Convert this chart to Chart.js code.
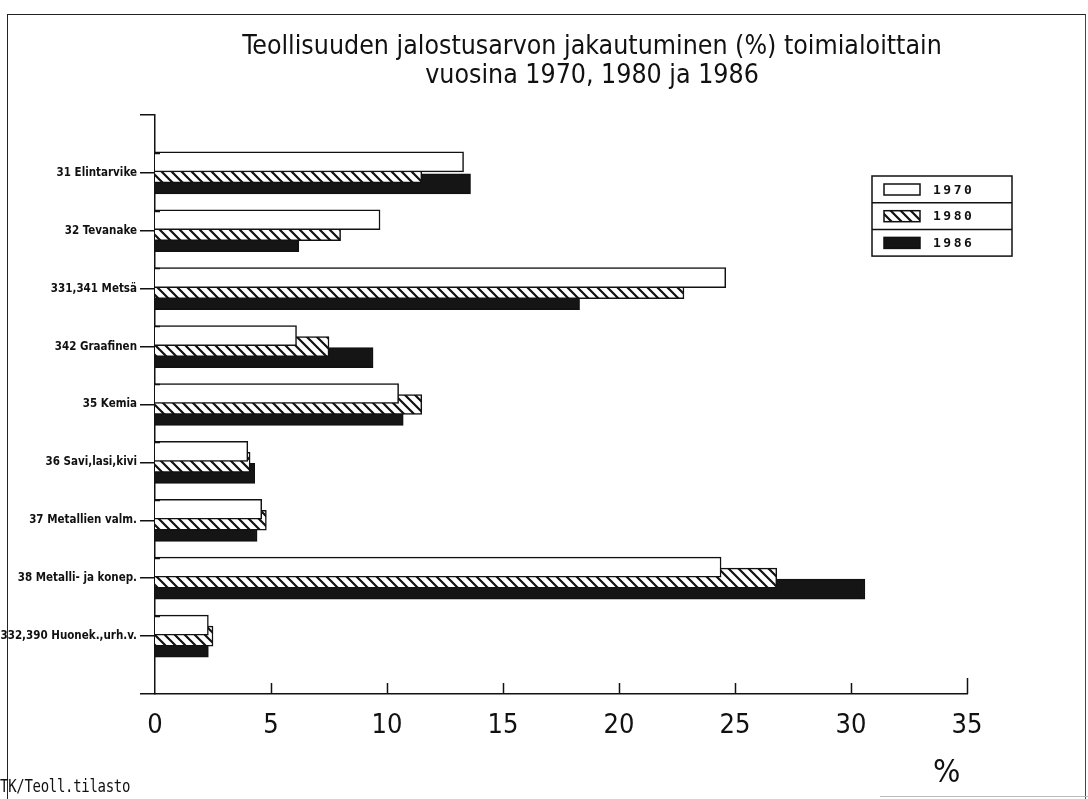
<!DOCTYPE html>
<html><head><meta charset="utf-8">
<script src="https://cdn.jsdelivr.net/npm/chart.js@4.4.1/dist/chart.umd.min.js"></script>
<style>
html,body{margin:0;padding:0;background:#fff;}
#wrap{position:relative;width:1088px;height:799px;overflow:hidden;background:#fff;}
#c{position:absolute;left:0;top:0;}
.frame{position:absolute;left:7px;top:14px;width:1077px;height:800px;border-top:1.5px solid #222;border-left:1.5px solid #222;border-right:1.5px solid #444;}
.bline{position:absolute;left:880px;top:796px;width:208px;height:1px;background:#bbb;}
#src{position:absolute;left:0px;top:776px;font-family:'DejaVu Sans Mono',monospace;font-size:14px;color:#111;letter-spacing:-0.3px;transform:scaleY(1.2);transform-origin:0 0;}
#pct{position:absolute;left:933px;top:752px;font-family:'Liberation Sans Narrow','DejaVu Sans Condensed',sans-serif;font-size:32px;color:#111;}
</style></head>
<body><div id="wrap">
<div class="frame"></div><div class="bline"></div>
<canvas id="c" width="1184" height="799"></canvas>
<div id="src">TK/Teoll.tilasto</div>
<div id="pct">%</div>
</div>
<script>
const categories = ['31 Elintarvike','32 Tevanake','331,341 Metsä','342 Graafinen','35 Kemia','36 Savi,lasi,kivi','37 Metallien valm.','38 Metalli- ja konep.','332,390 Huonek.,urh.v.'];
const years = ['1970','1980','1986'];
const values1970 = [13.3, 9.7, 24.6, 6.1, 10.5, 4.0, 4.6, 24.4, 2.3];
const values1980 = [11.5, 8.0, 22.8, 7.5, 11.5, 4.1, 4.8, 26.8, 2.5];
const values1986 = [13.6, 6.2, 18.3, 9.4, 10.7, 4.3, 4.4, 30.6, 2.3];
const xTicks = [0, 5, 10, 15, 20, 25, 30, 35];
const titleLines = ['Teollisuuden jalostusarvon jakautuminen (%) toimialoittain', 'vuosina 1970, 1980 ja 1986'];

const NARROW = "'Liberation Sans Narrow','DejaVu Sans Condensed','Liberation Sans',sans-serif";
const INK = '#111';

function hatch(){
  const c = document.createElement('canvas'); c.width = 10; c.height = 10;
  const g = c.getContext('2d');
  g.fillStyle = '#fff'; g.fillRect(0,0,10,10);
  g.strokeStyle = INK; g.lineWidth = 2.2; g.lineCap='square';
  g.beginPath();
  g.moveTo(-2,-2); g.lineTo(12,12);
  g.moveTo(-2,8); g.lineTo(2,12);
  g.moveTo(8,-2); g.lineTo(12,2);
  g.stroke();
  return g.createPattern(c,'repeat');
}
const cv = document.getElementById('c');
const fills = ['#ffffff', hatch(), '#151515'];
const offsets = [-0.19, 0, 0.19];
const series = [values1970, values1980, values1986];

const innerTicks = {
  id:'innerTicks',
  afterDraw(chart){
    const xs = chart.scales.x, ys = chart.scales.y, ctx = chart.ctx, ca = chart.chartArea;
    ctx.save(); ctx.strokeStyle = INK; ctx.lineWidth = 1.5;
    xs.ticks.forEach(t => {
      if (t.value === xs.min) return;
      const px = Math.round(xs.getPixelForValue(t.value)) + 0.5;
      const len = t.value === xs.max ? 16 : 11;
      ctx.beginPath(); ctx.moveTo(px, ca.bottom); ctx.lineTo(px, ca.bottom - len); ctx.stroke();
    });
    categories.forEach((c, i) => {
      const py = Math.round(ys.getPixelForValue(i - 0.35)) + 0.5;
      ctx.beginPath(); ctx.moveTo(ca.left, py); ctx.lineTo(ca.left + 5, py); ctx.stroke();
    });
    ctx.restore();
  }
};

const boxLegend = {
  id:'boxLegend',
  afterDraw(chart){
    const ctx = chart.ctx; const x = 872, y = 176, w = 140, rowH = 26.7;
    ctx.save(); ctx.strokeStyle = INK; ctx.lineWidth = 1.5;
    ctx.strokeRect(x, y, w, rowH*3);
    chart.data.datasets.forEach((ds, i) => {
      const ry = y + i*rowH;
      if (i > 0) { ctx.beginPath(); ctx.moveTo(x, ry); ctx.lineTo(x+w, ry); ctx.stroke(); }
      ctx.fillStyle = ds.backgroundColor;
      ctx.fillRect(x+12, ry+8, 36, 11);
      ctx.strokeRect(x+12, ry+8, 36, 11);
      ctx.fillStyle = INK; ctx.font = "bold 13px 'DejaVu Sans Mono', monospace";
      ctx.letterSpacing = '2.5px'; ctx.textBaseline = 'middle'; ctx.textAlign = 'left';
      ctx.fillText(ds.label, x+61, ry + rowH/2 + 1);
    });
    ctx.restore();
  }
};

new Chart(cv, {
  type:'bar',
  data:{
    datasets: years.map((yr, k) => ({
      label: yr,
      data: series[k].map((v, i) => ({x: v, y: i + offsets[k]})),
      backgroundColor: fills[k],
      borderColor: INK,
      borderWidth: 1.5
    }))
  },
  options:{
    responsive:false, animation:false, devicePixelRatio:1,
    indexAxis:'y',
    layout:{padding:{left:0,right:0,top:0,bottom:0}},
    datasets:{bar:{grouped:false, barThickness:20, borderSkipped:'start'}},
    plugins:{
      legend:{display:false}, tooltip:{enabled:false},
      title:{display:true, text:titleLines, color:INK,
        font:{family:NARROW, size:26.5, weight:'normal', lineHeight:1.094},
        padding:{top:32.5, bottom:24.5}}
    },
    scales:{
      x:{type:'linear', position:'bottom', min:0, max:35, offset:false,
        afterBuildTicks: s => { s.ticks = xTicks.map(v => ({value:v})); },
        grid:{display:false},
        border:{display:true, color:INK, width:1.5},
        ticks:{font:{family:NARROW, size:27}, color:INK, padding:8},
        afterFit: s => { s.height = 105; }
      },
      y:{type:'linear', position:'left', reverse:true, min:-1, max:9, offset:false,
        afterBuildTicks: s => { s.ticks = [-1, ...categories.map((c,i)=>i), 9].map(v => ({value:v})); },
        ticks:{autoSkip:false, callback: v => (categories[v] !== undefined ? categories[v] : ''),
          font:{family:NARROW, size:11.5, weight:'bold'}, color:INK, padding:3},
        grid:{display:true, drawOnChartArea:false, drawTicks:true, tickLength:15, color:INK, lineWidth:1.5, offset:false},
        border:{display:true, color:INK, width:1.5},
        afterFit: s => { s.width = 155; }
      },
      pad:{type:'linear', position:'right', display:true,
        grid:{display:false}, ticks:{display:false}, border:{display:false},
        afterFit: s => { s.width = 217; }
      }
    }
  },
  plugins:[innerTicks, boxLegend]
});
</script>
</body></html>
